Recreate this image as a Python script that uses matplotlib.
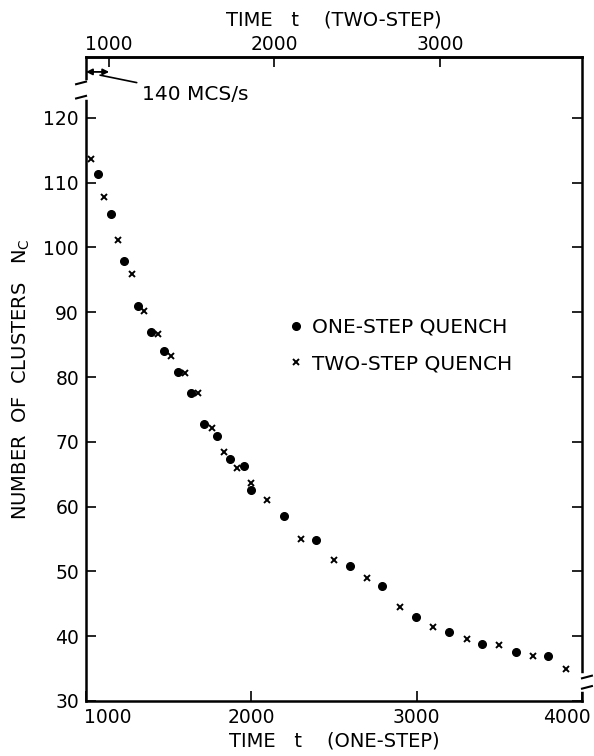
import numpy as np
import matplotlib.pyplot as plt
from matplotlib.transforms import ScaledTranslation

# ---------------------------------------------------------------------------------------
# data (time in one-step MCS, bottom axis)
t_one = [1075, 1150, 1230, 1313, 1391, 1474, 1555, 1635, 1714, 1794, 1871, 1956, 1996,
         2200, 2393, 2595, 2793, 2995, 3196, 3396, 3600, 3797]
n_one = [111.3, 105.1, 97.9, 90.9, 87.0, 84.0, 80.8, 77.5, 72.8, 70.9, 67.3, 66.2, 62.6,
         58.5, 54.9, 50.8, 47.8, 43.0, 40.7, 38.8, 37.6, 36.9]

t_two = [1030, 1111, 1196, 1276, 1353, 1434, 1514, 1599, 1676, 1760, 1835, 1912, 1996,
         2093, 2299, 2498, 2698, 2902, 3099, 3303, 3499, 3704, 3902]
n_two = [113.6, 107.8, 101.1, 95.9, 90.2, 86.7, 83.2, 80.7, 77.5, 72.1, 68.4, 66.0, 63.6,
         61.0, 55.0, 51.8, 49.0, 44.5, 41.4, 39.6, 38.7, 36.9, 34.9]

x_ticks = [1000, 2000, 3000, 4000]
x_top_ticks = [1000, 2000, 3000]
y_ticks = [30, 40, 50, 60, 70, 80, 90, 100, 110, 120]
shift = 140  # MCS offset between the two time axes

plt.rcParams['font.family'] = 'DejaVu Sans'
fig = plt.figure(figsize=(5.94, 7.56), dpi=100)
ax = fig.add_axes([0.1448, 0.0728, 0.8350, 0.8518])

ax.plot(t_one, n_one, 'o', color='black', markersize=5.5, label='ONE-STEP QUENCH')
ax.plot(t_two, n_two, 'x', color='black', markersize=3.8, mew=1.4, label='TWO-STEP QUENCH')

ax.set_xlim(1000, 4000)
ax.set_ylim(30, 129.4)
ax.set_xticks(x_ticks)
ax.set_yticks(y_ticks)
ax.tick_params(direction='in', length=7, width=1.2, labelsize=13.5, right=True, pad=5)
for s in ax.spines.values():
    s.set_linewidth(1.8)

# shift the end labels of the bottom axis inwards like in the original
labs = ax.get_xticklabels()
labs[0].set_transform(labs[0].get_transform() + ScaledTranslation(0.22, 0, fig.dpi_scale_trans))
labs[-1].set_transform(labs[-1].get_transform() + ScaledTranslation(-0.15, 0, fig.dpi_scale_trans))

sec = ax.secondary_xaxis('top', functions=(lambda x: x - shift, lambda x: x + shift))
sec.set_xticks(x_top_ticks)
sec.tick_params(direction='in', length=7, width=1.2, labelsize=13.5, pad=2)
sec.spines['top'].set_linewidth(1.8)
sec.set_xlabel('TIME   t    (TWO-STEP)', fontsize=14, labelpad=7)

ax.set_xlabel('TIME   t    (ONE-STEP)', fontsize=14, labelpad=3)
ax.set_ylabel('NUMBER  OF  CLUSTERS   N$_\\mathregular{C}$', fontsize=14, labelpad=8)

ax.legend(loc='upper left', bbox_to_anchor=(0.375, 0.623), frameon=False, fontsize=14.5,
          handletextpad=0.5, labelspacing=0.85, handlelength=0.6)

# axis breaks
yt = ax.get_yaxis_transform()
ax.plot([0, 0], [123.2, 125.4], color='white', lw=4, transform=yt, clip_on=False, zorder=5)
ax.plot([-0.02, 0.0], [123.0, 123.4], color='black', lw=1.5, transform=yt, clip_on=False, zorder=6)
ax.plot([-0.02, 0.0], [125.2, 125.6], color='black', lw=1.5, transform=yt, clip_on=False, zorder=6)
ax.plot([1, 1], [31.8, 33.8], color='white', lw=4, transform=yt, clip_on=False, zorder=5)
ax.plot([1.0, 1.02], [31.9, 32.3], color='black', lw=1.5, transform=yt, clip_on=False, zorder=6)
ax.plot([1.0, 1.02], [33.5, 33.9], color='black', lw=1.5, transform=yt, clip_on=False, zorder=6)

# 140 MCS offset marker
ax.annotate('', xy=(1000 + shift, 127.1), xytext=(1000, 127.1),
            arrowprops=dict(arrowstyle='<|-|>', color='black', lw=1.3, mutation_scale=9,
                            shrinkA=0, shrinkB=0))
ax.annotate('140 MCS/s', xy=(1085, 126.6), xytext=(1340, 123.6), fontsize=14.5, va='center',
            arrowprops=dict(arrowstyle='-', color='black', lw=1.2, shrinkA=2, shrinkB=0))

fig.savefig('out.png', dpi=100)
